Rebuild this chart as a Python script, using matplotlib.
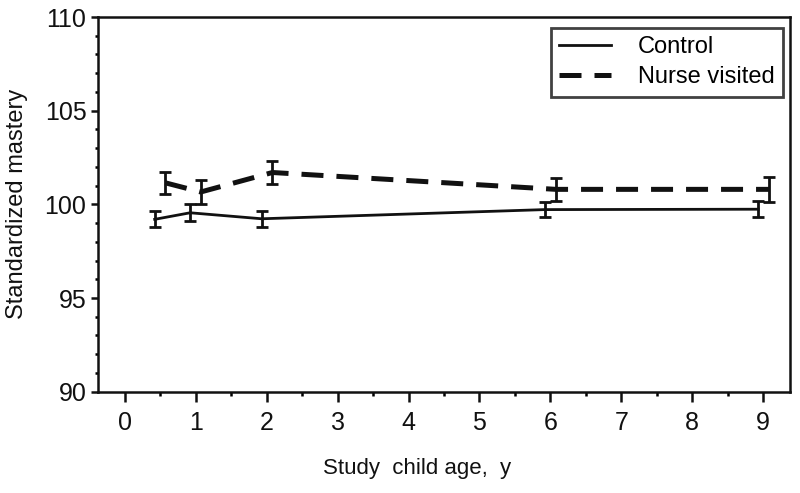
import matplotlib
matplotlib.use("Agg")
import matplotlib.pyplot as plt
from matplotlib.ticker import MultipleLocator

plt.rcParams['font.family'] = ['Liberation Sans', 'DejaVu Sans']

# values
control_age = [0.42, 0.92, 1.93, 5.92, 8.93]
control_mean = [99.2, 99.55, 99.23, 99.72, 99.74]
control_err = [0.43, 0.45, 0.43, 0.42, 0.42]

nurse_age = [0.57, 1.07, 2.08, 6.08, 9.09]
nurse_mean = [101.15, 100.66, 101.7, 100.8, 100.8]
nurse_err = [0.6, 0.65, 0.62, 0.63, 0.65]

fig = plt.figure(figsize=(8, 4.93), dpi=100)
ax = fig.add_axes([0.122, 0.2055, 0.8655, 0.76])

ax.errorbar(control_age, control_mean, yerr=control_err, color="#111111",
            lw=2.0, elinewidth=2.0, capsize=4.2, capthick=2.0, label="Control")
ax.errorbar(nurse_age, nurse_mean, yerr=nurse_err, color="#111111",
            lw=3.6, ls=(0, (4.4, 2.6)), elinewidth=2.0, capsize=4.2,
            capthick=2.0, label="Nurse visited")

ax.set_xlim(-0.385, 9.38)
ax.set_ylim(90, 110)
ax.xaxis.set_major_locator(MultipleLocator(1))
ax.xaxis.set_minor_locator(MultipleLocator(0.5))
ax.yaxis.set_major_locator(MultipleLocator(5))
ax.yaxis.set_minor_locator(MultipleLocator(1))

for s in ax.spines.values():
    s.set_linewidth(1.8)
    s.set_color("#111111")

ax.tick_params(axis="x", which="major", direction="out", length=7, width=1.8,
               pad=7, labelsize=18, colors="#111111")
ax.tick_params(axis="x", which="minor", direction="out", length=3, width=1.8)
ax.tick_params(axis="y", which="major", direction="out", length=5, width=1.8,
               pad=3, labelsize=18, colors="#111111")
ax.tick_params(axis="y", which="minor", direction="out", length=2.5, width=1.8)

ax.set_xlabel("Study  child age,  y", fontsize=16, color="#111111")
ax.xaxis.set_label_coords(0.461, -0.178)
ax.set_ylabel("Standardized mastery", fontsize=17, labelpad=12, color="#111111")

# legend handles without error bar glyphs
h, l = ax.get_legend_handles_labels()
h = [x[0] for x in h]
leg = ax.legend(h, l, loc="upper right", bbox_to_anchor=(0.99, 0.971),
                fontsize=17, frameon=True, fancybox=False, handlelength=2.2,
                handletextpad=1.15, borderpad=0.35, labelspacing=0.35,
                borderaxespad=0)
leg.get_frame().set_edgecolor("#111111")
leg.get_frame().set_linewidth(2.0)

fig.savefig("out.png", dpi=100)
